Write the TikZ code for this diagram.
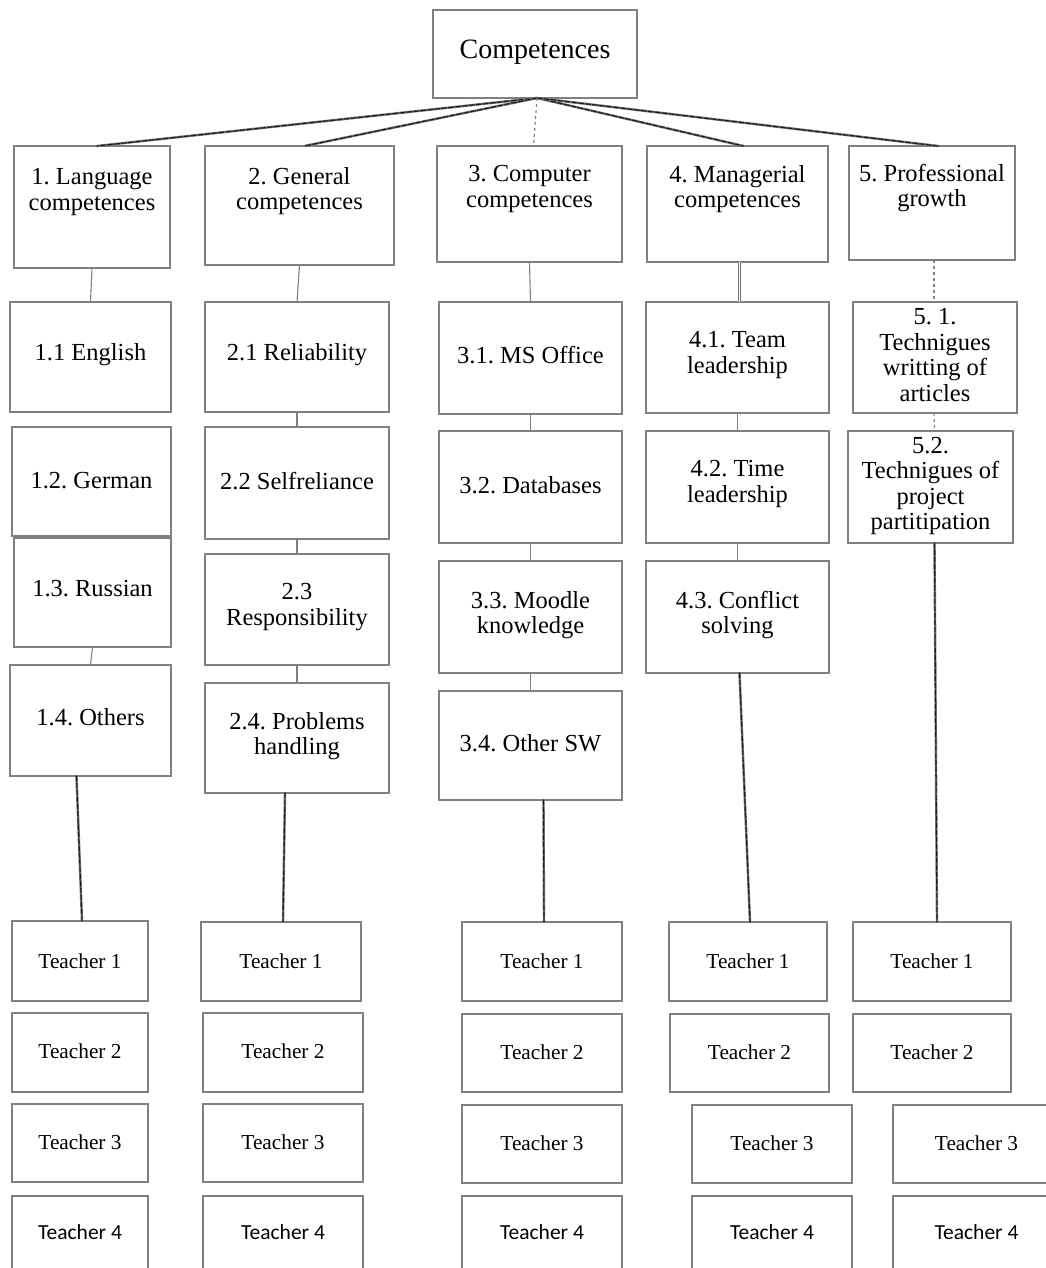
\documentclass[tikz,border=0pt]{standalone}
\usepackage{fontspec}
\setmainfont{Liberation Serif}
\newfontfamily\calfont{Carlito}
\frenchspacing
\begin{document}
\begin{tikzpicture}[x=1pt,y=-1pt,
  cell/.style={draw=black!50, line width=1.3pt, inner sep=0pt, outer sep=0pt, fill=none},
  lbl/.style={align=center, inner sep=0pt, font=\fontsize{24.5}{25.5}\selectfont},
  tlbl/.style={inner sep=0pt, font=\fontsize{21.3}{24}\selectfont},
  t4lbl/.style={inner sep=0pt, font=\calfont\fontsize{21.5}{24}\selectfont},
  conn/.style={draw=black!55, line width=2.4pt, line cap=round,
    postaction={draw=black!90, line width=1.1pt, dash pattern=on 5pt off 2pt}},
  thin/.style={draw=black!50, line width=1.1pt},
  twin/.style={draw=black!55, line width=0.8pt, double=white, double distance=1.2pt}]
\useasboundingbox (0,0) rectangle (1045,1268);
\fill[white] (0,0) rectangle (1045,1268);

% box: name, left, top, right, bottom, text centre y, text, label style
\newcommand\boxat[8]{%
  \node[cell, minimum width={(#4)-(#2)}, minimum height={(#5)-(#3)}]
    (#1) at ({((#2)+(#4))/2},{((#3)+(#5))/2}) {};
  \node[#8] (#1-t) at ({((#2)+(#4))/2},#6) {#7};
}

% root
\boxat{top}{433}{10}{637}{98}{52}{\fontsize{28}{30}\selectfont Competences}{lbl}

% first level
\boxat{c1}{14}{146}{170}{268}{192}{1. Language\\competences}{lbl}
\boxat{c2}{205}{146}{394}{265}{191}{2. General\\competences}{lbl}
\boxat{c3}{437}{146}{622}{262}{189}{3. Computer\\competences}{lbl}
\boxat{c4}{647}{146}{828}{262}{189}{4. Managerial\\competences}{lbl}
\boxat{c5}{849}{146}{1015}{260}{188}{5. Professional\\growth}{lbl}

% column 1
\boxat{c11}{10}{302}{171}{412}{355}{1.1 English}{lbl}
\boxat{c12}{12}{427}{171}{536}{481}{1.2. German}{lbl}
\boxat{c13}{14}{538}{171}{647}{589}{1.3. Russian}{lbl}
\boxat{c14}{10}{665}{171}{776}{717}{1.4. Others}{lbl}

% column 2
\boxat{c21}{205}{302}{389}{412}{355}{2.1 Reliability}{lbl}
\boxat{c22}{205}{427}{389}{539}{481}{2.2 Selfreliance}{lbl}
\boxat{c23}{205}{554}{389}{665}{607}{2.3\\Responsibility}{lbl}
\boxat{c24}{205}{683}{389}{793}{736}{2.4. Problems\\handling}{lbl}

% column 3
\boxat{c31}{439}{302}{622}{414}{355}{3.1. MS Office}{lbl}
\boxat{c32}{439}{431}{622}{543}{485}{3.2. Databases}{lbl}
\boxat{c33}{439}{561}{622}{673}{615}{3.3. Moodle\\knowledge}{lbl}
\boxat{c34}{439}{691}{622}{800}{743}{3.4. Other SW}{lbl}

% column 4
\boxat{c41}{646}{302}{829}{413}{355}{4.1. Team\\leadership}{lbl}
\boxat{c42}{646}{431}{829}{543}{484}{4.2. Time\\leadership}{lbl}
\boxat{c43}{646}{561}{829}{673}{615}{4.3. Conflict\\solving}{lbl}

% column 5
\boxat{c51}{853}{302}{1017}{413}{355}{5. 1.\\Technigues\\writting of\\articles}{lbl}
\boxat{c52}{848}{431}{1013}{543}{486}{5.2.\\Technigues of\\project\\partitipation}{lbl}

% teachers
\boxat{t11}{12}{921}{148}{1001}{961}{Teacher 1}{tlbl}
\boxat{t12}{12}{1013}{148}{1092}{1051}{Teacher 2}{tlbl}
\boxat{t13}{12}{1104}{148}{1182}{1142}{Teacher 3}{tlbl}
\boxat{t14}{12}{1196}{148}{1290}{1232}{Teacher 4}{t4lbl}

\boxat{t21}{201}{922}{361}{1001}{961}{Teacher 1}{tlbl}
\boxat{t22}{203}{1013}{363}{1092}{1051}{Teacher 2}{tlbl}
\boxat{t23}{203}{1104}{363}{1182}{1142}{Teacher 3}{tlbl}
\boxat{t24}{203}{1196}{363}{1290}{1232}{Teacher 4}{t4lbl}

\boxat{t31}{462}{922}{622}{1001}{961}{Teacher 1}{tlbl}
\boxat{t32}{462}{1014}{622}{1092}{1052}{Teacher 2}{tlbl}
\boxat{t33}{462}{1105}{622}{1183}{1143}{Teacher 3}{tlbl}
\boxat{t34}{462}{1196}{622}{1290}{1232}{Teacher 4}{t4lbl}

\boxat{t41}{669}{922}{827}{1001}{961}{Teacher 1}{tlbl}
\boxat{t42}{670}{1014}{829}{1092}{1052}{Teacher 2}{tlbl}
\boxat{t43}{692}{1105}{852}{1183}{1143}{Teacher 3}{tlbl}
\boxat{t44}{692}{1196}{852}{1290}{1232}{Teacher 4}{t4lbl}

\boxat{t51}{853}{922}{1011}{1001}{961}{Teacher 1}{tlbl}
\boxat{t52}{853}{1014}{1011}{1092}{1052}{Teacher 2}{tlbl}
\boxat{t53}{893}{1105}{1060}{1183}{1143}{Teacher 3}{tlbl}
\boxat{t54}{893}{1196}{1060}{1290}{1232}{Teacher 4}{t4lbl}

% root to first level
\draw[conn] ([xshift=2pt]top.south) -- ([xshift=5pt]c1.north);
\draw[conn] ([xshift=2pt]top.south) -- ([xshift=5pt]c2.north);
\draw[thin, dashed] ([xshift=2pt]top.south) -- ([xshift=4pt]c3.north);
\draw[conn] ([xshift=2pt]top.south) -- ([xshift=6pt]c4.north);
\draw[conn] ([xshift=2pt]top.south) -- ([xshift=6pt]c5.north);

% links inside the columns
\draw[thin] (c1.south) -- (c11.north);
\draw[thin] (c13.south) -- (c14.north);
\draw[thin] (c2.south) -- (c21.north);
\draw[thin] (c21.south) -- (c22.north);
\draw[thin] (c22.south) -- (c23.north);
\draw[thin] (c23.south) -- (c24.north);
\draw[thin] (c3.south) -- (c31.north);
\draw[thin] (c31.south) -- (c32.north);
\draw[thin] (c32.south) -- (c33.north);
\draw[thin] (c33.south) -- (c34.north);
\draw[twin] ([xshift=2pt]c4.south) -- ([xshift=2pt]c41.north);
\draw[thin] (c41.south) -- (c42.north);
\draw[thin] (c42.south) -- (c43.north);
\draw[thin, dashed] ([xshift=2pt]c5.south) -- ([xshift=-1pt]c51.north);
\draw[thin, dashed] ([xshift=-1pt]c51.south) -- ([xshift=4pt]c52.north);

% last item of each column to its first teacher
\draw[conn] ([xshift=-14pt]c14.south) -- ([xshift=2pt]t11.north);
\draw[conn] ([xshift=-12pt]c24.south) -- ([xshift=2pt]t21.north);
\draw[conn] ([xshift=13pt]c34.south) -- ([xshift=2pt]t31.north);
\draw[conn] ([xshift=2pt]c43.south) -- ([xshift=2pt]t41.north);
\draw[conn] ([xshift=4pt]c52.south) -- ([xshift=5pt]t51.north);
\end{tikzpicture}
\end{document}
